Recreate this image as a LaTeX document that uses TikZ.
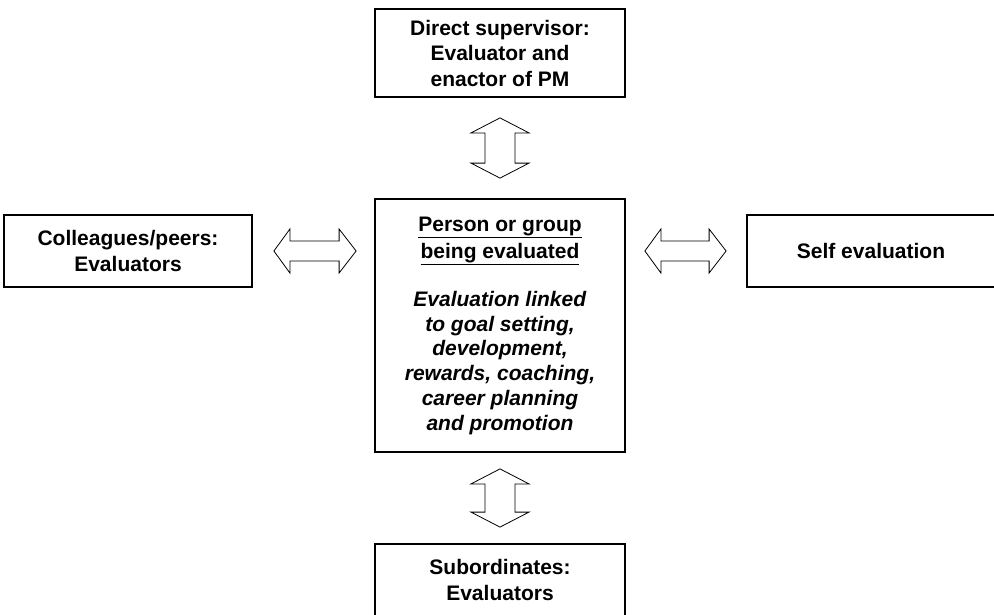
\documentclass[tikz,border=0pt]{standalone}
\usepackage{fontspec}
\setmainfont{Liberation Sans}
\usetikzlibrary{calc}
\tikzset{
  box/.style={draw, line width=1.8pt, rectangle, align=center, inner sep=0pt,
    font=\fontsize{21}{25.5}\selectfont\bfseries},
  blk/.style={draw, line width=0.8pt, fill=white, line join=miter},
}
\newcommand\vdblarrow[2]{%
  \draw[blk] let \p1=(#1), \p2=(#2) in
    (\x1,\y1) -- (\x1+29pt,\y1-15pt) -- (\x1+15pt,\y1-15pt) -- (\x1+15pt,\y2+15pt)
    -- (\x1+29pt,\y2+15pt) -- (\x1,\y2) -- (\x1-29pt,\y2+15pt) -- (\x1-15pt,\y2+15pt)
    -- (\x1-15pt,\y1-15pt) -- (\x1-29pt,\y1-15pt) -- cycle;}
\newcommand\hdblarrow[2]{%
  \draw[blk] let \p1=(#1), \p2=(#2) in
    (\x1,\y1) -- (\x1+16pt,\y1+22pt) -- (\x1+16pt,\y1+10pt) -- (\x2-17pt,\y1+10pt)
    -- (\x2-17pt,\y1+22pt) -- (\x2,\y1) -- (\x2-17pt,\y1-22pt) -- (\x2-17pt,\y1-10pt)
    -- (\x1+16pt,\y1-10pt) -- (\x1+16pt,\y1-22pt) -- cycle;}
\newcommand\itl[1]{\textit{#1}}
\begin{document}
\begin{tikzpicture}[x=1pt,y=1pt]
\useasboundingbox (0,0) rectangle (994,-614);
\node[box, minimum width=250pt, minimum height=88pt] (sup) at (500,-53)
  {Direct supervisor:\\Evaluator and\\enactor of PM};
\node[box, minimum width=248pt, minimum height=72pt] (lft) at (128,-251)
  {Colleagues/peers:\\Evaluators};
\node[box, minimum width=248pt, minimum height=72pt] (rgt) at (871,-251)
  {Self evaluation};
\node[box, minimum width=250pt, minimum height=253pt,
  font=\fontsize{21}{24.7}\selectfont\bfseries] (ctr) at (500,-325.5)
  {\underline{Person or group}\\[3pt]\underline{being evaluated}\\[23pt]
   \itl{Evaluation linked}\\\itl{to goal setting,}\\\itl{development,}\\\itl{rewards, coaching,}\\\itl{career planning}\\\itl{and promotion}};
\node[box, minimum width=250pt, minimum height=72pt] (sub) at (500,-580)
  {Subordinates:\\Evaluators};
\path (sup.south) ++(0,-20) coordinate (t1)
      (ctr.north) ++(0,20) coordinate (t2)
      (ctr.south) ++(0,-16) coordinate (b1)
      (sub.north) ++(0,16) coordinate (b2)
      (lft.east) ++(21,0) coordinate (l1)
      (ctr.west |- lft.east) ++(-18,0) coordinate (l2)
      (ctr.east |- rgt.west) ++(19,0) coordinate (r1)
      (rgt.west) ++(-20,0) coordinate (r2);
\vdblarrow{t1}{t2}
\vdblarrow{b1}{b2}
\hdblarrow{l1}{l2}
\hdblarrow{r1}{r2}
\end{tikzpicture}
\end{document}
